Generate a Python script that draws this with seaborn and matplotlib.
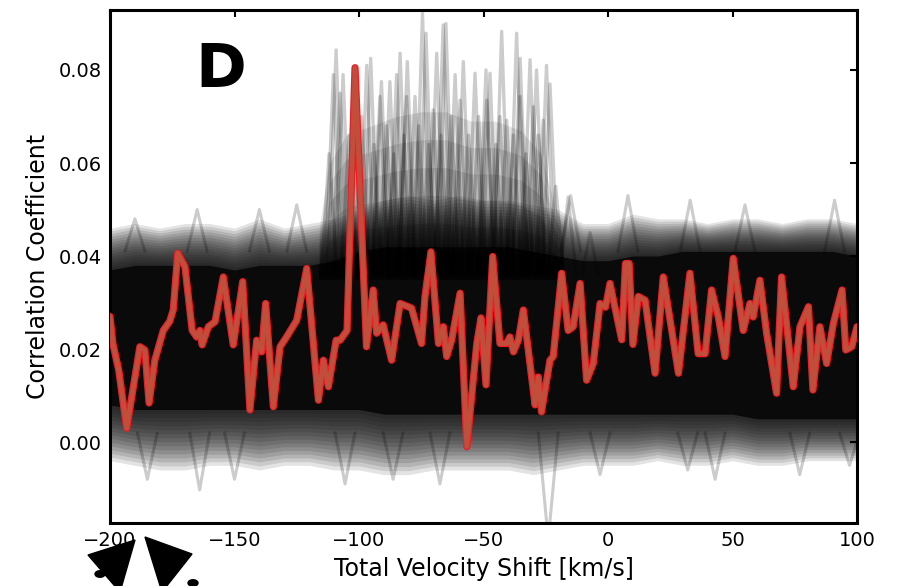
import matplotlib
matplotlib.use("Agg")
import matplotlib.pyplot as plt
from matplotlib.patches import Polygon, Circle
import numpy as np
import pandas as pd
import seaborn as sns

sns.set_theme(style="white")
plt.rcParams["font.family"] = ["DejaVu Sans"]

# ---- target cross-correlation curve (km/s, coefficient) ----
red_v = [-200, -198.8, -196.5, -193.3, -188, -186, -184.3, -182, -178.6, -176,
         -174.6, -172.8, -169.9, -167, -165.2, -163.9, -163, -160.5, -157.8, -154.5,
         -150.5, -146.7, -143.8, -141.1, -139.1, -137.5, -134.4, -131.7, -129.1, -125,
         -121, -116.3, -114.3, -112.3, -109.2, -107.6, -104.8, -101.6, -97, -94.3,
         -92.9, -90.3, -86.9, -83.5, -78.9, -74.9, -73.5, -71.1, -68.1, -66.1,
         -64.8, -62.8, -59.4, -56.7, -52.7, -51, -49, -46.3, -43.4, -40.7,
         -39.4, -38, -36, -34, -29.3, -28, -26.7, -23.3, -22, -18.6,
         -16, -14, -11.2, -8.6, -5.9, -3.2, -1, 0.8, 5.5, 7,
         8.5, 10, 12.2, 14.9, 18.9, 22.2, 28.3, 32.9, 36.2, 39,
         41.6, 44.3, 47, 50.3, 54.3, 57, 58.3, 61, 63.7, 67.7,
         69.7, 74.4, 77.1, 80.5, 82.3, 85.1, 87.8, 90.5, 94, 95.5,
         97.9, 100]
red_c = [0.027, 0.021, 0.0155, 0.003, 0.0205, 0.0198, 0.0084, 0.0176, 0.024, 0.026,
         0.0284, 0.0406, 0.0377, 0.024, 0.0226, 0.024, 0.0209, 0.0248, 0.0259, 0.0355,
         0.0209, 0.0345, 0.0069, 0.0219, 0.0194, 0.0298, 0.0076, 0.0205, 0.0226, 0.0262,
         0.0373, 0.009, 0.0176, 0.0119, 0.0219, 0.0219, 0.024, 0.0805, 0.0205, 0.0327,
         0.0234, 0.0252, 0.0176, 0.0298, 0.0288, 0.0212, 0.0313, 0.0409, 0.0212, 0.0248,
         0.0184, 0.0219, 0.032, -0.001, 0.0212, 0.0267, 0.0123, 0.0399, 0.0212, 0.0212,
         0.0226, 0.0194, 0.0219, 0.0284, 0.008, 0.014, 0.0065, 0.0176, 0.0184, 0.0363,
         0.024, 0.0248, 0.0341, 0.0133, 0.0169, 0.0298, 0.029, 0.0341, 0.022, 0.0384,
         0.0384, 0.021, 0.0313, 0.0305, 0.0148, 0.0355, 0.0148, 0.0363, 0.019, 0.019,
         0.0327, 0.0269, 0.0184, 0.0395, 0.024, 0.0298, 0.0269, 0.0348, 0.0234, 0.0105,
         0.0355, 0.0119, 0.0248, 0.0291, 0.0112, 0.0248, 0.0169, 0.0255, 0.0327, 0.0198,
         0.0205, 0.0248]

# ---- spread of the comparison curves (km/s grid, coefficient bounds) ----
band_v = list(range(-200, 101, 10))
outer_hi = [0.046, 0.047, 0.046, 0.047, 0.047, 0.046, 0.048, 0.046, 0.047, 0.048,
            0.050, 0.052, 0.053, 0.052, 0.053, 0.052, 0.052, 0.051, 0.050, 0.047,
            0.047, 0.049, 0.048, 0.048, 0.047, 0.048, 0.048, 0.047, 0.048, 0.048, 0.047]
core_hi = [0.037, 0.038, 0.038, 0.038, 0.038, 0.037, 0.038, 0.038, 0.038, 0.039,
           0.041, 0.042, 0.042, 0.042, 0.042, 0.042, 0.042, 0.041, 0.040, 0.039,
           0.039, 0.040, 0.040, 0.041, 0.041, 0.041, 0.041, 0.041, 0.041, 0.041, 0.040]
core_lo = [0.008, 0.007, 0.007, 0.007, 0.007, 0.007, 0.007, 0.007, 0.007, 0.007,
           0.007, 0.006, 0.006, 0.006, 0.006, 0.006, 0.006, 0.006, 0.006, 0.006,
           0.006, 0.006, 0.006, 0.006, 0.006, 0.006, 0.005, 0.005, 0.005, 0.005, 0.005]
outer_lo = [-0.004, -0.005, -0.006, -0.006, -0.005, -0.005, -0.006, -0.005, -0.005, -0.006,
            -0.006, -0.007, -0.007, -0.006, -0.006, -0.006, -0.006, -0.007, -0.006, -0.005,
            -0.005, -0.005, -0.004, -0.005, -0.005, -0.004, -0.005, -0.005, -0.004, -0.004, -0.004]

# ---- upper reach of the shifted-curve comb (km/s, coefficient) ----
comb_v = [-116, -112, -105, -95, -85, -75, -65, -55, -45, -35, -27, -22, -18]
comb_hi = [0.046, 0.060, 0.066, 0.068, 0.070, 0.071, 0.071, 0.069, 0.069, 0.067,
           0.062, 0.052, 0.046]

# ---- narrow peaks of the shifted comparison curves (km/s, peak coefficient) ----
spike_v = [-110.3, -109.2, -106.4, -96.9, -95.3, -91, -87.6, -84.9, -83.5, -80.6,
           -77.5, -74.5, -73.1, -68.8, -66.2, -65.1, -61.4, -58.1, -53.4, -49,
           -47.4, -42.7, -36.7, -35.3, -31.3, -28.7, -24.7, -23.3,
           -107.6, -101.6, -91.6, -80.9, -70.2, -59.4, -48.7, -43.4, -40.7, -35.3,
           -30, -26, -112, -104, -99, -94, -89, -86, -82, -76,
           -72, -67, -63, -56, -52, -45, -38, -33, -28, -21,
           -16, -7.2]
spike_peak = [0.079, 0.0843, 0.079, 0.081, 0.0825, 0.0775, 0.0775, 0.079, 0.0836, 0.0818,
              0.0743, 0.0922, 0.0879, 0.0836, 0.0897, 0.09, 0.079, 0.0818, 0.0793, 0.08,
              0.0793, 0.0883, 0.0879, 0.0825, 0.0822, 0.08, 0.081, 0.077,
              0.075, 0.0764, 0.0743, 0.0743, 0.0714, 0.0735, 0.0735, 0.07, 0.0692, 0.0743,
              0.0721, 0.0692, 0.062, 0.066, 0.07, 0.064, 0.068, 0.062, 0.066, 0.068,
              0.064, 0.066, 0.07, 0.066, 0.07, 0.064, 0.066, 0.062, 0.066, 0.055,
              0.0527, 0.045]

# ---- isolated excursions above and below the spread ----
bump_v = [-190, -165, -140, -125, -15, 8, 33, 55, 91]
bump_max = [0.048, 0.050, 0.050, 0.051, 0.053, 0.053, 0.052, 0.051, 0.052]
dip_v = [-185, -164, -150, -105.6, -86.3, -67.5, -24, -3.2, 32, 43, 77, 97]
dip_min = [-0.008, -0.0103, -0.008, -0.009, -0.008, -0.009, -0.021, -0.007,
           -0.006, -0.008, -0.007, -0.005]

x_ticks = [-200, -150, -100, -50, 0, 50, 100]
y_ticks = [0.00, 0.02, 0.04, 0.06, 0.08]

W, H = 897, 586
fig = plt.figure(figsize=(W / 100, H / 100), dpi=100)
ax = fig.add_axes([110 / W, (H - 523) / H, (857 - 110) / W, (523 - 10) / H])

# density of the comparison curves: stacked translucent layers fading outwards
o_lo, o_hi = np.array(outer_lo), np.array(outer_hi)
c_lo, c_hi = np.array(core_lo), np.array(core_hi)
n_layers = 16
for k in range(n_layers):
    f = k / (n_layers - 1)
    ax.fill_between(band_v, o_lo + f * (c_lo - o_lo), o_hi + f * (c_hi - o_hi),
                    color="black", alpha=0.11 if k < n_layers - 1 else 0.75, lw=0, zorder=1)

# lower part of the comb of shifted peaks
for k in range(6):
    f = k / 6
    top = 0.035 + (1 - f) * (np.array(comb_hi) - 0.035)
    ax.fill_between(comb_v, 0.035, top, color="black", alpha=0.1, lw=0, zorder=1.2)

hw = 3.2
for c, p in zip(spike_v, spike_peak):
    ax.plot([c - hw, c, c + hw], [0.036, p, 0.036], color="black", alpha=0.2, lw=2.4, zorder=1.5)
for c, p in zip(bump_v, bump_max):
    ax.plot([c - 4, c, c + 4], [0.041, p, 0.041], color="black", alpha=0.2, lw=2.2, zorder=1.5)
for c, p in zip(dip_v, dip_min):
    ax.plot([c - 4, c, c + 4], [0.002, p, 0.002], color="black", alpha=0.2, lw=2.2, zorder=1.5)

# target curve: red with a warm translucent trace on top
df = pd.DataFrame({"v": red_v, "c": red_c})
sns.lineplot(data=df, x="v", y="c", ax=ax, color="#ee1c24", lw=5.2, sort=False,
             estimator=None, zorder=3)
sns.lineplot(data=df, x="v", y="c", ax=ax, color="#b8583f", lw=3.4, alpha=0.85, sort=False,
             estimator=None, zorder=3.5)

ax.set_xlim(-200, 100)
ax.set_ylim(-0.0174, 0.0929)
ax.set_xticks(x_ticks)
ax.set_yticks(y_ticks)
ax.set_yticklabels([f"{t:.2f}" for t in y_ticks])
ax.tick_params(direction="in", top=True, right=True, length=5, width=1.5,
               labelsize=14, pad=6, colors="black")
for s in ax.spines.values():
    s.set_linewidth(2.2)
    s.set_color("black")
ax.set_xlabel("Total Velocity Shift [km/s]", fontsize=17, labelpad=5, color="black")
ax.set_ylabel("Correlation Coefficient", fontsize=17, labelpad=6, color="black")

ax.text(0.1486, 0.883, "D", transform=ax.transAxes, fontsize=44, fontweight="bold",
        ha="center", va="center", color="black")

# arrowhead markers below the axis
tri_a = [(88, 555), (135, 540), (120, 592)]
tri_b = [(145, 537), (192, 554), (162, 592)]
dots = [(100, 574), (193, 583)]
for tri in (tri_a, tri_b):
    fig.add_artist(Polygon([(x / W, 1 - y / H) for x, y in tri], closed=True,
                           color="black", transform=fig.transFigure, clip_on=False))
for x, y in dots:
    fig.add_artist(Circle((x / W, 1 - y / H), 5 / W, color="black",
                          transform=fig.transFigure, clip_on=False))

fig.savefig("out.png", dpi=100)
